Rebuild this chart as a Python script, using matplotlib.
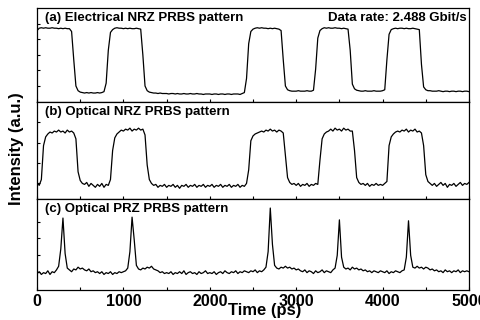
import numpy as np
import matplotlib
matplotlib.use("Agg")
import matplotlib.pyplot as plt
from matplotlib.ticker import MultipleLocator

plt.rcParams['font.family'] = ['Liberation Sans', 'DejaVu Sans']
plt.rcParams['font.weight'] = 'bold'

# sample times (ps), one value every 25 ps
time_ps = np.arange(0, 5001, 25)

# (a) electrical NRZ, normalised intensity
elec_nrz = [
    0.76, 0.785, 0.79, 0.785, 0.79, 0.785, 0.785, 0.79, 0.785, 0.785, 0.78, 0.785, 0.78, 0.785, 0.78, 0.78, 0.75, 0.45, 0.17, 0.12,
    0.105, 0.10, 0.095, 0.10, 0.095, 0.10, 0.095, 0.095, 0.10, 0.095, 0.10, 0.11, 0.20, 0.55, 0.74, 0.77, 0.785, 0.79, 0.785, 0.785,
    0.78, 0.785, 0.78, 0.785, 0.78, 0.78, 0.785, 0.78, 0.775, 0.50, 0.17, 0.12, 0.105, 0.10, 0.095, 0.095, 0.09, 0.095, 0.09, 0.09,
    0.09, 0.085, 0.09, 0.09, 0.085, 0.09, 0.085, 0.085, 0.09, 0.085, 0.085, 0.09, 0.085, 0.085, 0.09, 0.085, 0.085, 0.08, 0.085, 0.085,
    0.085, 0.08, 0.085, 0.085, 0.08, 0.085, 0.085, 0.08, 0.085, 0.085, 0.08, 0.085, 0.085, 0.085, 0.08, 0.09, 0.10, 0.25, 0.62, 0.75,
    0.775, 0.785, 0.79, 0.785, 0.79, 0.785, 0.785, 0.78, 0.785, 0.78, 0.785, 0.78, 0.775, 0.76, 0.45, 0.17, 0.13, 0.12, 0.115, 0.115,
    0.115, 0.12, 0.115, 0.115, 0.115, 0.12, 0.115, 0.115, 0.125, 0.35, 0.68, 0.76, 0.78, 0.79, 0.785, 0.79, 0.785, 0.785, 0.79, 0.785,
    0.785, 0.78, 0.785, 0.78, 0.775, 0.55, 0.19, 0.14, 0.125, 0.12, 0.115, 0.115, 0.12, 0.115, 0.115, 0.115, 0.12, 0.115, 0.115, 0.115,
    0.12, 0.13, 0.45, 0.72, 0.77, 0.78, 0.785, 0.78, 0.785, 0.785, 0.78, 0.785, 0.78, 0.78, 0.785, 0.78, 0.775, 0.77, 0.40, 0.16,
    0.13, 0.12, 0.12, 0.115, 0.115, 0.115, 0.12, 0.115, 0.11, 0.115, 0.115, 0.11, 0.115, 0.115, 0.11, 0.115, 0.115, 0.11, 0.115, 0.115,
    0.11,
]

# (b) optical NRZ
opt_nrz = [
    0.17, 0.14, 0.20, 0.55, 0.64, 0.67, 0.69, 0.68, 0.70, 0.69, 0.71, 0.69, 0.70, 0.68, 0.71, 0.69, 0.70, 0.68, 0.62, 0.28,
    0.19, 0.16, 0.15, 0.17, 0.13, 0.16, 0.14, 0.12, 0.15, 0.13, 0.16, 0.12, 0.15, 0.14, 0.20, 0.50, 0.63, 0.67, 0.69, 0.71,
    0.70, 0.72, 0.71, 0.73, 0.70, 0.72, 0.71, 0.73, 0.71, 0.72, 0.66, 0.35, 0.20, 0.16, 0.14, 0.15, 0.12, 0.14, 0.13, 0.15,
    0.12, 0.14, 0.13, 0.15, 0.12, 0.14, 0.11, 0.14, 0.13, 0.15, 0.12, 0.14, 0.13, 0.15, 0.12, 0.14, 0.13, 0.15, 0.12, 0.14,
    0.13, 0.15, 0.12, 0.14, 0.13, 0.15, 0.12, 0.14, 0.13, 0.15, 0.12, 0.14, 0.13, 0.15, 0.12, 0.14, 0.13, 0.16, 0.30, 0.60,
    0.65, 0.67, 0.68, 0.69, 0.70, 0.69, 0.71, 0.70, 0.72, 0.70, 0.71, 0.69, 0.71, 0.70, 0.68, 0.45, 0.22, 0.17, 0.15, 0.16,
    0.14, 0.16, 0.13, 0.15, 0.14, 0.16, 0.13, 0.15, 0.14, 0.16, 0.15, 0.40, 0.62, 0.67, 0.69, 0.70, 0.72, 0.70, 0.73, 0.71,
    0.72, 0.70, 0.73, 0.71, 0.72, 0.70, 0.70, 0.50, 0.22, 0.17, 0.15, 0.16, 0.14, 0.16, 0.13, 0.15, 0.14, 0.16, 0.14, 0.15,
    0.14, 0.16, 0.18, 0.55, 0.64, 0.67, 0.69, 0.70, 0.69, 0.71, 0.70, 0.72, 0.69, 0.71, 0.70, 0.72, 0.69, 0.70, 0.68, 0.55,
    0.25, 0.18, 0.16, 0.14, 0.16, 0.13, 0.15, 0.17, 0.14, 0.16, 0.12, 0.15, 0.14, 0.16, 0.13, 0.15, 0.17, 0.14, 0.16, 0.15,
    0.17,
]

# (c) optical PRZ
opt_prz = [
    0.18, 0.20, 0.17, 0.19, 0.18, 0.21, 0.17, 0.20, 0.19, 0.22, 0.26, 0.45, 0.79, 0.40, 0.24, 0.22, 0.20, 0.23, 0.22, 0.25,
    0.23, 0.24, 0.22, 0.21, 0.23, 0.20, 0.21, 0.19, 0.20, 0.18, 0.20, 0.17, 0.19, 0.18, 0.20, 0.17, 0.19, 0.18, 0.20, 0.19,
    0.20, 0.21, 0.24, 0.42, 0.80, 0.55, 0.27, 0.23, 0.22, 0.24, 0.23, 0.25, 0.24, 0.26, 0.23, 0.22, 0.21, 0.19, 0.20, 0.18,
    0.19, 0.18, 0.20, 0.17, 0.19, 0.18, 0.20, 0.18, 0.21, 0.17, 0.19, 0.20, 0.18, 0.19, 0.17, 0.20, 0.18, 0.19, 0.21, 0.18,
    0.19, 0.18, 0.20, 0.17, 0.19, 0.20, 0.18, 0.21, 0.19, 0.18, 0.20, 0.19, 0.21, 0.18, 0.20, 0.19, 0.21, 0.20, 0.19, 0.21,
    0.20, 0.22, 0.19, 0.21, 0.20, 0.22, 0.25, 0.42, 0.90, 0.50, 0.27, 0.24, 0.23, 0.25, 0.24, 0.26, 0.24, 0.25, 0.23, 0.24,
    0.22, 0.23, 0.21, 0.20, 0.22, 0.19, 0.21, 0.20, 0.18, 0.21, 0.19, 0.20, 0.22, 0.19, 0.21, 0.20, 0.19, 0.22, 0.24, 0.38,
    0.77, 0.36, 0.25, 0.23, 0.24, 0.22, 0.25, 0.23, 0.24, 0.22, 0.23, 0.21, 0.22, 0.20, 0.21, 0.19, 0.21, 0.20, 0.19, 0.21,
    0.20, 0.19, 0.21, 0.18, 0.20, 0.19, 0.21, 0.20, 0.19, 0.21, 0.22, 0.36, 0.76, 0.38, 0.25, 0.24, 0.26, 0.24, 0.25, 0.23,
    0.25, 0.24, 0.22, 0.23, 0.21, 0.22, 0.20, 0.21, 0.19, 0.22, 0.20, 0.21, 0.19, 0.21, 0.20, 0.22, 0.19, 0.21, 0.20, 0.21,
    0.20,
]

traces = [elec_nrz, opt_nrz, opt_prz]
labels = ["(a) Electrical NRZ PRBS pattern", "(b) Optical NRZ PRBS pattern", "(c) Optical PRZ PRBS pattern"]
yticks = [[0.17, 0.335, 0.50, 0.665, 0.83],
          [0.165, 0.37, 0.58, 0.79],
          [0.20, 0.38, 0.57, 0.75]]

fig = plt.figure(figsize=(4.81, 3.20), dpi=100)
gs = fig.add_gridspec(3, 1, height_ratios=[94, 97, 91], hspace=0,
                      left=0.077, right=0.975, top=0.975, bottom=0.094)

axes = []
for i in range(3):
    ax = fig.add_subplot(gs[i])
    ax.plot(time_ps, traces[i], color='black', lw=0.9)
    ax.set_xlim(0, 5000)
    ax.set_ylim(0, 1)
    ax.set_yticks(yticks[i])
    ax.set_yticklabels([])
    ax.xaxis.set_major_locator(MultipleLocator(1000))
    ax.xaxis.set_minor_locator(MultipleLocator(500))
    ax.tick_params(direction='in', length=2.5, width=0.8, labelsize=11.5, pad=3)
    ax.tick_params(which='minor', direction='in', length=2.5, width=0.8)
    for s in ax.spines.values():
        s.set_linewidth(0.9)
    ax.text(0.019, 0.96, labels[i], transform=ax.transAxes, va='top', ha='left',
            fontsize=9.5, fontweight='bold')
    if i < 2:
        ax.tick_params(labelbottom=False)
    axes.append(ax)

axes[0].text(0.995, 0.96, "Data rate: 2.488 Gbit/s", transform=axes[0].transAxes,
             va='top', ha='right', fontsize=9.5, fontweight='bold')

for lab in axes[2].get_xticklabels():
    lab.set_fontweight('bold')

fig.text(265 / 481, 1 - 310 / 320, "Time (ps)", ha='center', va='center',
         fontsize=12, fontweight='bold')
fig.text(17 / 481, 1 - 149 / 320, "Intensity (a.u.)", ha='center', va='center',
         rotation=90, fontsize=12, fontweight='bold')

fig.savefig("out.png", dpi=100)
